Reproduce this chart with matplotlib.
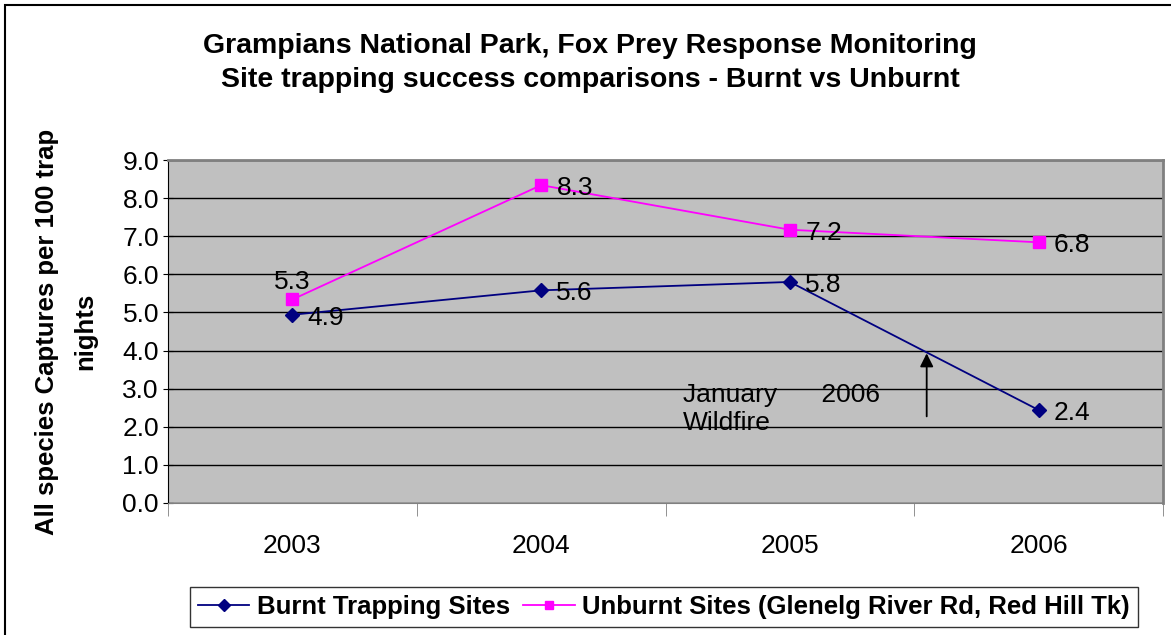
import numpy as np
import matplotlib.pyplot as plt
from matplotlib.lines import Line2D
from matplotlib.patches import Rectangle

plt.rcParams['font.family'] = ['Liberation Sans', 'DejaVu Sans']

years = ['2003', '2004', '2005', '2006']
burnt = [4.94, 5.58, 5.80, 2.44]
unburnt = [5.34, 8.34, 7.17, 6.84]
yticks = np.arange(0, 9.01, 1.0)

fig = plt.figure(figsize=(11.71, 6.35), dpi=100)
W, H = 1171, 635
ax = fig.add_axes([168 / W, 1 - 503 / H, (1163 - 168) / W, (503 - 160) / H])
ax.set_facecolor('#C0C0C0')

x = np.arange(len(years))
ax.plot(x, burnt, color='#000080', marker='D', markersize=7, lw=1.3, zorder=3)
ax.plot(x, unburnt, color='#FF00FF', marker='s', markersize=8, lw=1.3, zorder=3)

fs = 19
for i, v in enumerate(burnt):
    ax.annotate(f'{v:.1f}', (i, v), xytext=(11, -2), textcoords='offset points',
                ha='left', va='center', fontsize=fs)
for i, v in enumerate(unburnt):
    if i == 0:
        ax.annotate(f'{v:.1f}', (i, v), xytext=(0, 4), textcoords='offset points',
                    ha='center', va='bottom', fontsize=fs)
    else:
        ax.annotate(f'{v:.1f}', (i, v), xytext=(11, -2), textcoords='offset points',
                    ha='left', va='center', fontsize=fs)

ax.set_xlim(-0.5, 3.5)
ax.set_ylim(0, 9)
ax.set_yticks(yticks)
ax.set_yticklabels([f'{t:.1f}' for t in yticks], fontsize=fs)
ax.yaxis.grid(True, color='black', lw=1)
ax.set_axisbelow(True)

ax.set_xticks(x)
ax.set_xticklabels(years, fontsize=fs)
ax.tick_params(axis='x', length=0, pad=22)
ax.set_xticks(np.arange(-0.5, 3.6, 1), minor=True)
ax.tick_params(axis='x', which='minor', length=9, color='#808080', direction='out')
ax.tick_params(axis='y', length=7, direction='inout', pad=3)

for s in ['top', 'right']:
    ax.spines[s].set_color('#808080')
    ax.spines[s].set_linewidth(2)
ax.spines['bottom'].set_color('#808080')
ax.spines['left'].set_color('black')

ax.annotate('', xy=(2.55, 4.0), xytext=(2.55, 2.2),
            arrowprops=dict(arrowstyle='-|>', color='black', lw=1.3, mutation_scale=20))
ax.text(1.57, 3.15, 'January      2006\nWildfire', fontsize=fs, ha='left', va='top',
        linespacing=1.2)

ax.set_ylabel('All species Captures per 100 trap\nnights', fontsize=18.5,
              fontweight='bold', labelpad=18, linespacing=1.75)

fig.text(590 / W, 1 - 63 / H,
         'Grampians National Park, Fox Prey Response Monitoring\nSite trapping success comparisons - Burnt vs Unburnt',
         ha='center', va='center', fontsize=20.5, fontweight='bold', linespacing=1.4)

handles = [Line2D([], [], color='#000080', marker='D', markersize=6, lw=1.3),
           Line2D([], [], color='#FF00FF', marker='s', markersize=6, lw=1.3)]
leg = fig.legend(handles, ['Burnt Trapping Sites', 'Unburnt Sites (Glenelg River Rd, Red Hill Tk)'],
                 loc='center', bbox_to_anchor=(664 / W, 1 - 607 / H), ncol=2,
                 prop={'size': 18.5, 'weight': 'bold'}, frameon=True, fancybox=False,
                 edgecolor='black', handlelength=2.0, columnspacing=0.5,
                 handletextpad=0.3, borderpad=0.3)
leg.get_frame().set_linewidth(1)

fig.patches.append(Rectangle((5 / W, -0.1), 1.2, 1 - 5 / H + 0.1, transform=fig.transFigure,
                             fill=False, edgecolor='black', lw=1.5, zorder=0))

fig.savefig('out.png', dpi=100)
